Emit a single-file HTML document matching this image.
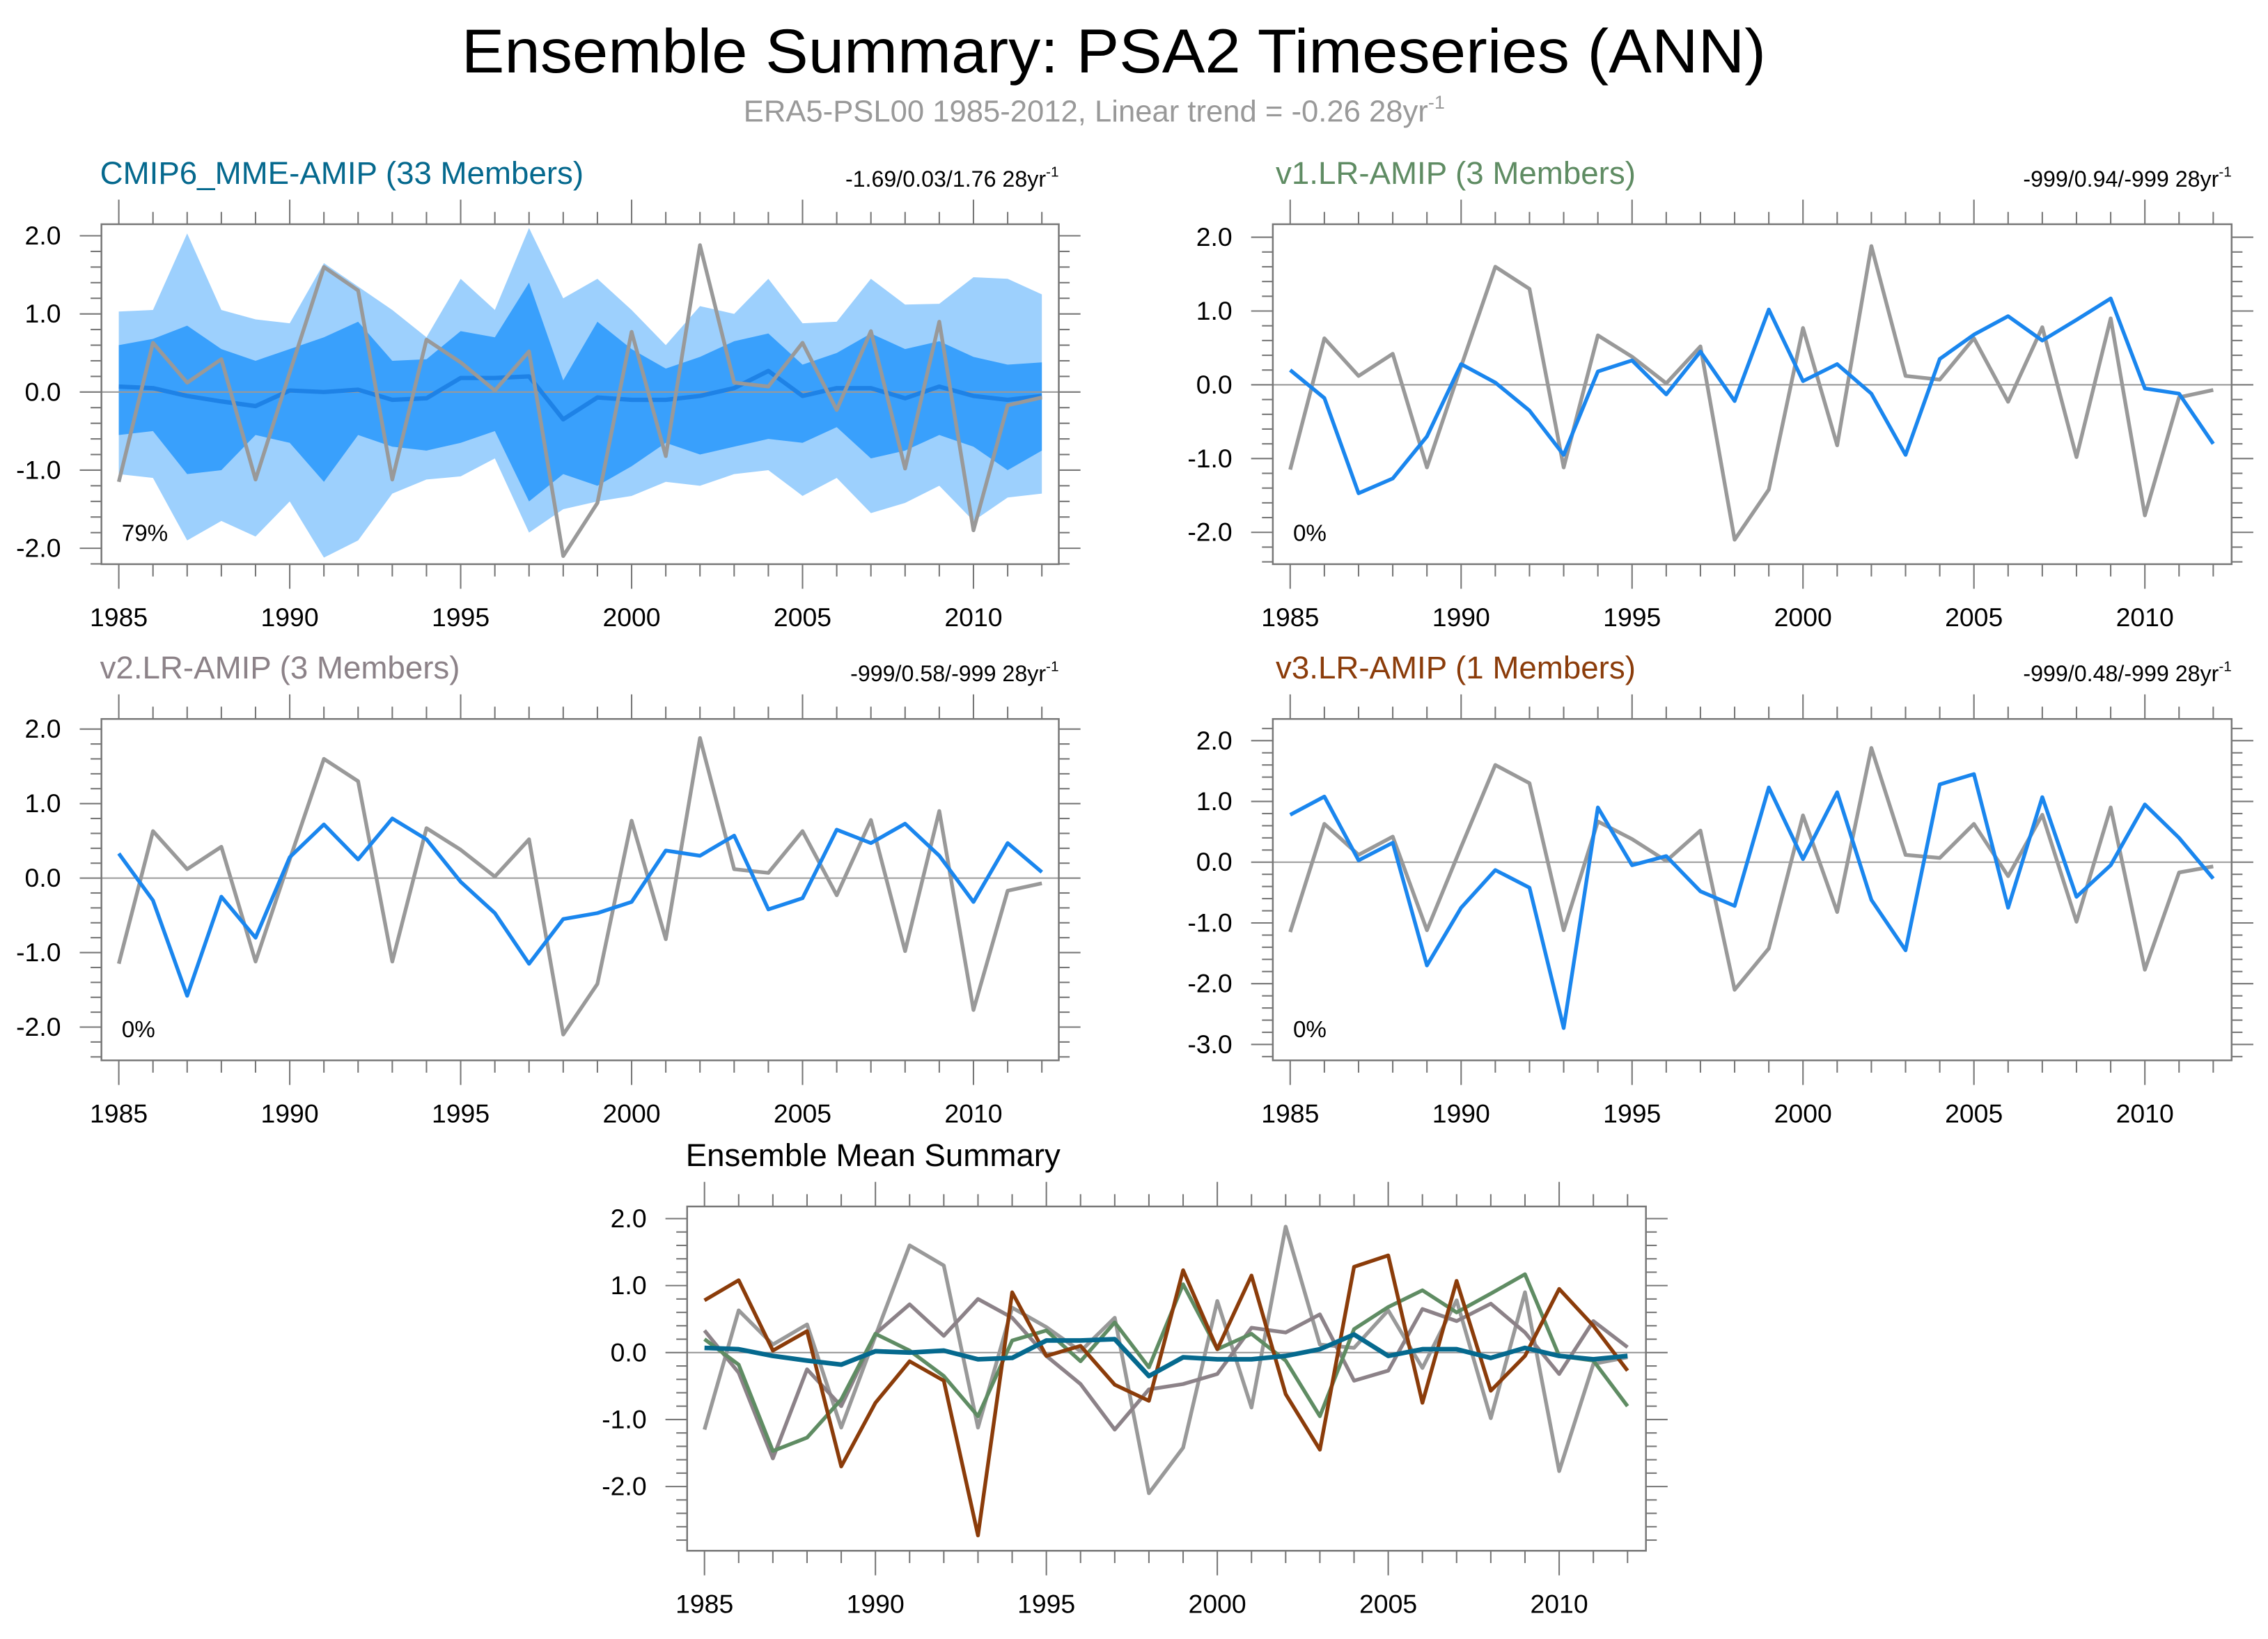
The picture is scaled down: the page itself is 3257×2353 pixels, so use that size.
<!DOCTYPE html>
<html><head><meta charset="utf-8"><style>
html,body{margin:0;padding:0;background:#fff;}
svg{display:block;font-family:"Liberation Sans",sans-serif;}
</style></head><body>
<svg id="fig" xmlns="http://www.w3.org/2000/svg" width="3257" height="2353" viewBox="0 0 1568 1133">
<rect width="1568" height="1133" fill="#fff"/>
<text x="770" y="50" text-anchor="middle" font-size="43" textLength="902" lengthAdjust="spacingAndGlyphs">Ensemble Summary: PSA2 Timeseries (ANN)</text>
<text x="514" y="84" font-size="21" fill="#999">ERA5-PSL00 1985-2012, Linear trend = -0.26 28yr<tspan font-size="13" dy="-9">-1</tspan></text>
</svg>
<script>
const years = [1985,1986,1987,1988,1989,1990,1991,1992,1993,1994,1995,1996,1997,1998,1999,2000,2001,2002,2003,2004,2005,2006,2007,2008,2009,2010,2011,2012];
const obs = [-1.15,0.63,0.12,0.42,-1.12,0.25,1.6,1.3,-1.12,0.67,0.38,0.02,0.52,-2.1,-1.42,0.77,-0.82,1.88,0.12,0.07,0.63,-0.23,0.78,-0.98,0.9,-1.77,-0.17,-0.07];
const v1 = [0.2,-0.18,-1.47,-1.27,-0.7,0.28,0.03,-0.35,-0.95,0.18,0.33,-0.13,0.45,-0.22,1.02,0.05,0.28,-0.12,-0.95,0.35,0.68,0.93,0.6,0.88,1.17,-0.05,-0.12,-0.8];
const v2 = [0.33,-0.3,-1.58,-0.25,-0.8,0.28,0.72,0.25,0.8,0.52,-0.05,-0.47,-1.15,-0.55,-0.47,-0.32,0.37,0.3,0.57,-0.42,-0.27,0.65,0.47,0.73,0.3,-0.32,0.47,0.08];
const v3 = [0.78,1.08,0.03,0.32,-1.7,-0.75,-0.13,-0.42,-2.73,0.9,-0.05,0.1,-0.48,-0.72,1.23,0.05,1.15,-0.62,-1.45,1.28,1.45,-0.75,1.07,-0.57,-0.05,0.95,0.4,-0.27];
const mmeMean = [0.07,0.05,-0.05,-0.12,-0.18,0.02,0.0,0.03,-0.1,-0.08,0.18,0.18,0.2,-0.35,-0.07,-0.1,-0.1,-0.05,0.05,0.27,-0.05,0.05,0.05,-0.08,0.07,-0.05,-0.1,-0.05];
const iqrHigh = [0.6,0.68,0.85,0.55,0.4,0.55,0.7,0.9,0.4,0.42,0.78,0.7,1.4,0.15,0.9,0.55,0.3,0.45,0.65,0.75,0.35,0.5,0.75,0.55,0.65,0.45,0.35,0.38];
const iqrLow = [-0.55,-0.5,-1.05,-1.0,-0.55,-0.65,-1.15,-0.55,-0.7,-0.75,-0.65,-0.5,-1.4,-1.05,-1.2,-0.95,-0.65,-0.8,-0.7,-0.6,-0.65,-0.45,-0.85,-0.75,-0.55,-0.7,-1.0,-0.75];
const maxHigh = [1.03,1.05,2.03,1.05,0.93,0.88,1.65,1.35,1.05,0.7,1.45,1.05,2.1,1.2,1.45,1.05,0.6,1.1,1.0,1.45,0.88,0.9,1.45,1.12,1.13,1.47,1.45,1.25];
const minLow = [-1.05,-1.1,-1.9,-1.65,-1.85,-1.4,-2.12,-1.9,-1.3,-1.12,-1.08,-0.85,-1.8,-1.5,-1.4,-1.33,-1.15,-1.2,-1.05,-1.0,-1.33,-1.1,-1.55,-1.42,-1.2,-1.65,-1.35,-1.3];
const xTickLabels = ["1985","1990","1995","2000","2005","2010"];

const svg = document.getElementById('fig');
const NS = 'http://www.w3.org/2000/svg';
function mk(tag, attrs, parent){const e=document.createElementNS(NS,tag);for(const k in attrs)e.setAttribute(k,attrs[k]);(parent||svg).appendChild(e);return e;}

function panel(cfg){
  const g = mk('g',{});
  
  
  const {x0,x1,y0,y1,zeroY,ppu} = cfg;
  const xs = yr => x0+12+(yr-1985)*23.64;
  const ys = v => zeroY - v*ppu;
  const vTop=(zeroY-y0)/ppu, vBot=-(y1-zeroY)/ppu;
  if(cfg.bands){
    const poly=(hi,lo,fill,nm)=>{
      let p=years.map((y,i)=>xs(y)+','+ys(hi[i])).join(' ')+' '+years.slice().reverse().map((y,j)=>{const i=years.length-1-j;return xs(y)+','+ys(lo[i]);}).join(' ');
      const e=mk('polygon',{points:p,fill:fill},g);
      
      
    };
    poly(maxHigh,minLow,'#9dd0fd','range-band');
    poly(iqrHigh,iqrLow,'#39a0fc','iqr-band');
  }
  const zl=mk('line',{x1:x0,x2:x1,y1:ys(0),y2:ys(0),stroke:'#999','stroke-width':1},g);
  
  
  cfg.series.forEach(s=>{
    const pl=mk('polyline',{points:years.map((y,i)=>xs(y)+','+ys(s.data[i])).join(' '),fill:'none',stroke:s.color,'stroke-width':s.w||2.6,'stroke-linejoin':'round'},g);
    
    
  });
  const bx=mk('rect',{x:x0,y:y0,width:x1-x0,height:y1-y0,fill:'none',stroke:'#777','stroke-width':1.2},g);
  
  
  for(let k=Math.ceil(vBot*5-1e-6);k<=Math.floor(vTop*5+1e-6);k++){
    const v=k/5, y=ys(v), major=(k%5===0), L=major?15:7.5;
    mk('line',{x1:x0-L,x2:x0,y1:y,y2:y,stroke:'#777','stroke-width':1},g);
    mk('line',{x1:x1,x2:x1+L,y1:y,y2:y,stroke:'#777','stroke-width':1},g);
    if(major){
      const t=mk('text',{x:x0-28,y:y+6,'font-size':18,'text-anchor':'end'},g);
      t.textContent=v.toFixed(1);
      
      
    }
  }
  years.forEach(yr=>{
    const x=xs(yr), major=(yr%5===0), L=major?17:8.5;
    mk('line',{x1:x,x2:x,y1:y1,y2:y1+L,stroke:'#777','stroke-width':1},g);
    mk('line',{x1:x,x2:x,y1:y0-L,y2:y0,stroke:'#777','stroke-width':1},g);
  });
  xTickLabels.forEach(lb=>{
    const t=mk('text',{x:xs(+lb),y:y1+43,'font-size':18,'text-anchor':'middle'},g);
    t.textContent=lb;
    
    
  });
  const tt=mk('text',{x:cfg.tx,y:y0-28,'font-size':22,fill:cfg.tcolor},g);
  tt.textContent=cfg.title;
  
  
  if(cfg.stat){
    const st=mk('text',{x:x1,y:y0-26,'font-size':15.5,'text-anchor':'end'},g);
    st.textContent=cfg.stat+' 28yr';
    const sp=mk('tspan',{'font-size':10,dy:-7},st);sp.textContent='-1';
    
    
  }
  if(cfg.pct){
    const pt=mk('text',{x:x0+14,y:y1-16,'font-size':16},g);
    pt.textContent=cfg.pct;
    
    
  }
}
const GR='#999999';
panel({name:'panel-cmip6-mme',x0:70,x1:732,y0:155,y1:390,zeroY:271,ppu:54,bands:true,
  series:[{name:'mme-mean-line',data:mmeMean,color:'#1e82e6',w:3},{name:'obs-line',data:obs,color:GR}],
  title:'CMIP6_MME-AMIP (33 Members)',tx:69,tcolor:'#05698e',stat:'-1.69/0.03/1.76',pct:'79%'});
panel({name:'panel-v1',x0:880,x1:1543,y0:155,y1:390,zeroY:266,ppu:51,
  series:[{name:'obs-line',data:obs,color:GR},{name:'v1-line',data:v1,color:'#1a86ee'}],
  title:'v1.LR-AMIP (3 Members)',tx:882,tcolor:'#5f8c63',stat:'-999/0.94/-999',pct:'0%'});
panel({name:'panel-v2',x0:70,x1:732,y0:497,y1:733,zeroY:607,ppu:51.5,
  series:[{name:'obs-line',data:obs,color:GR},{name:'v2-line',data:v2,color:'#1a86ee'}],
  title:'v2.LR-AMIP (3 Members)',tx:69,tcolor:'#8c8288',stat:'-999/0.58/-999',pct:'0%'});
panel({name:'panel-v3',x0:880,x1:1543,y0:497,y1:733,zeroY:596,ppu:42,
  series:[{name:'obs-line',data:obs,color:GR},{name:'v3-line',data:v3,color:'#1a86ee'}],
  title:'v3.LR-AMIP (1 Members)',tx:882,tcolor:'#8b3c0a',stat:'-999/0.48/-999',pct:'0%'});
panel({name:'panel-ensemble-mean-summary',x0:475,x1:1138,y0:834,y1:1072,zeroY:935,ppu:46.3,
  series:[{name:'obs-line',data:obs,color:GR},{name:'v2-line',data:v2,color:'#8c8288'},{name:'v1-line',data:v1,color:'#5f8c63'},{name:'v3-line',data:v3,color:'#8b3c0a'},{name:'mme-line',data:mmeMean,color:'#05698e',w:3.2}],
  title:'Ensemble Mean Summary',tx:474,tcolor:'#000'});
</script>
</body></html>
